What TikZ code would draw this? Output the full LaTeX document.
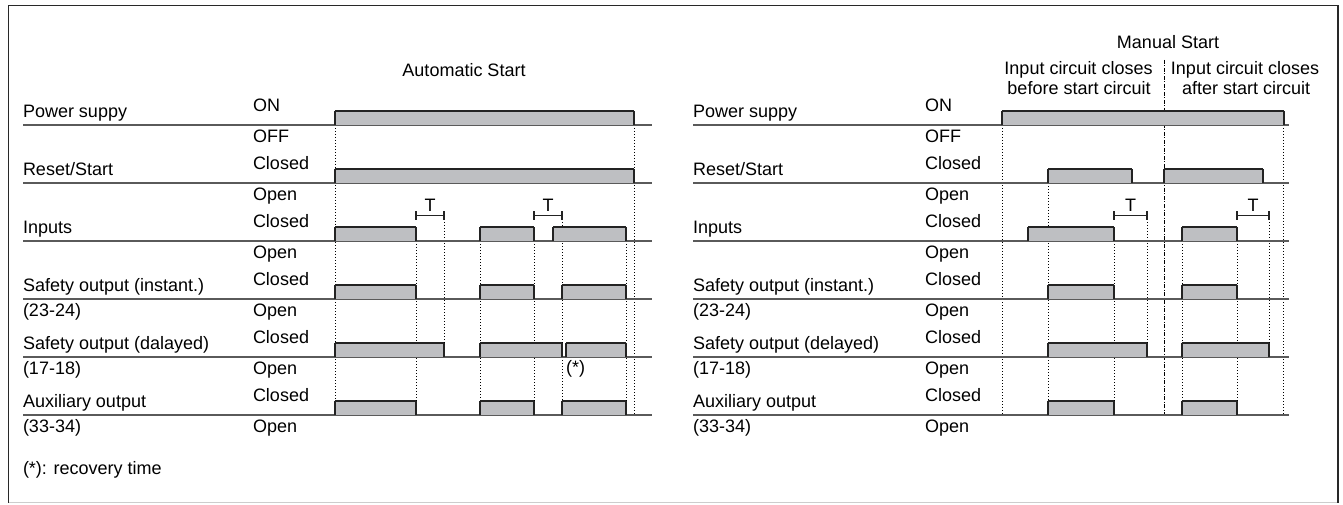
\documentclass[tikz,border=0pt]{standalone}
\usepackage{fontspec}
\setmainfont{Liberation Sans}
\definecolor{barfill}{RGB}{190,191,194}
\definecolor{baseln}{RGB}{90,90,90}
\definecolor{edgeln}{RGB}{35,35,35}
\definecolor{frameln}{RGB}{40,40,40}
\definecolor{framelight}{RGB}{205,205,205}
% one signal pulse: left x, right x, baseline y
\newcommand\sigbar[3]{%
  \fill[barfill] (#1,#3-14) rectangle (#2,#3);
  \draw[bartop] (#1,#3-14) -- (#2,#3-14);
  \draw[baredge] (#1,#3) -- (#1,#3-14) (#2,#3) -- (#2,#3-14);
}
% time span bracket "T": left x, right x
\newcommand\tspan[3]{%
  \draw[bracket] (#1,211.5) -- (#1,220) (#1,215.7) -- (#2,215.7) (#2,211.5) -- (#2,220);
  \node[lbl, anchor=base] (#3) at ({(#1+#2)/2},211.5) {T};
}
\begin{document}
\begin{tikzpicture}[x=1bp,y=-1bp,
  font=\fontsize{18bp}{21bp}\selectfont,
  lbl/.style={anchor=base west, inner sep=0pt, outer sep=0pt},
  hdr/.style={anchor=base, inner sep=0pt, outer sep=0pt},
  rowline/.style={baseln, line width=1.2bp},
  bartop/.style={edgeln, line width=1.2bp},
  baredge/.style={edgeln, line width=2.4bp},
  bracket/.style={edgeln, line width=1.6bp},
  guide/.style={black, line width=1bp, dash pattern=on 1.3bp off 1.7bp},
  divider/.style={black, line width=0.9bp, dash pattern=on 4bp off 1.5bp on 1bp off 1.5bp}]
\useasboundingbox (0,0) rectangle (1343,505);

% frame
\draw[framelight, line width=1.2bp] (8.5,502.5) -- (1337.5,502.5);
\draw[frameln, line width=1.2bp] (8.5,502.5) -- (8.5,5.5) -- (1337.5,5.5);
\draw[frameln, line width=2bp] (1337.5,5.5) -- (1337.5,502.5);

% ---------------- left diagram: automatic start ----------------
\node[hdr] (autohdr) at (464,77) {Automatic Start};

% guide lines
\draw[guide] (335,125) -- (335,415);
\draw[guide] (634,125) -- (634,415);
\draw[guide] (416,241) -- (416,415);
\draw[guide] (444,216) -- (444,343);
\draw[guide] (480,241) -- (480,415);
\draw[guide] (534,241) -- (534,415);
\draw[guide] (562,216) -- (562,415);
\draw[guide] (626,241) -- (626,415);

% row lines
\foreach \yy in {125,183,241,299,357,415}
  \draw[rowline] (23,\yy) -- (652,\yy);

% row names
\node[lbl] (lps)  at (23,117.5) {Power suppy};
\node[lbl] (lrs)  at (23,175.5) {Reset/Start};
\node[lbl] (lin)  at (23,233.5) {Inputs};
\node[lbl] (lsi)  at (23,291.5) {Safety output (instant.)};
\node[lbl] (lsi2) at (23,316.5) {(23-24)};
\node[lbl] (lsd)  at (23,349.5) {Safety output (dalayed)};
\node[lbl] (lsd2) at (23,374.5) {(17-18)};
\node[lbl] (lax)  at (23,407.5) {Auxiliary output};
\node[lbl] (lax2) at (23,432.5) {(33-34)};
\node[lbl] (note) at (23,474.5) {(*): recovery time};

% state names
\node[lbl] (la1)  at (253,111.5) {ON};
\node[lbl] (la2)  at (253,142.5) {OFF};
\node[lbl] (la3)  at (253,169.5) {Closed};
\node[lbl] (la4)  at (253,200.5) {Open};
\node[lbl] (la5)  at (253,227.5) {Closed};
\node[lbl] (la6)  at (253,258.5) {Open};
\node[lbl] (la7)  at (253,285.5) {Closed};
\node[lbl] (la8)  at (253,316.5) {Open};
\node[lbl] (la9)  at (253,343.5) {Closed};
\node[lbl] (la10) at (253,374.5) {Open};
\node[lbl] (la11) at (253,401.5) {Closed};
\node[lbl] (la12) at (253,432.5) {Open};

% pulses
\sigbar{335}{634}{125}
\sigbar{335}{634}{183}
\sigbar{335}{416}{241}
\sigbar{480}{534}{241}
\sigbar{553}{626}{241}
\sigbar{335}{416}{299}
\sigbar{480}{534}{299}
\sigbar{562}{626}{299}
\sigbar{335}{444}{357}
\sigbar{480}{562}{357}
\sigbar{566}{626}{357}
\sigbar{335}{416}{415}
\sigbar{480}{534}{415}
\sigbar{562}{626}{415}
\tspan{416}{444}{ta1}
\tspan{534}{562}{ta2}
\node[lbl] (rec) at (566,373.5) {(*)};

% ---------------- right diagram: manual start ----------------
\node[hdr] (manhdr) at (1168,48.5) {Manual Start};
\node[hdr] (c1a) at (1078.5,74.5) {Input circuit closes};
\node[hdr] (c1b) at (1079,94.5) {before start circuit};
\node[hdr] (c2a) at (1245,74.5) {Input circuit closes};
\node[hdr] (c2b) at (1246,94.5) {after start circuit};

\draw[divider] (1164,60) -- (1164,415);
\draw[guide] (1002,125) -- (1002,415);
\draw[guide] (1283,125) -- (1283,415);
\draw[guide] (1048,183) -- (1048,415);
\draw[guide] (1114,241) -- (1114,415);
\draw[guide] (1147,216) -- (1147,343);
\draw[guide] (1182,241) -- (1182,415);
\draw[guide] (1237,241) -- (1237,415);
\draw[guide] (1269,216) -- (1269,343);

\foreach \yy in {125,183,241,299,357,415}
  \draw[rowline] (693,\yy) -- (1289,\yy);

\node[lbl] (rps)  at (693,117.5) {Power suppy};
\node[lbl] (rrs)  at (693,175.5) {Reset/Start};
\node[lbl] (rin)  at (693,233.5) {Inputs};
\node[lbl] (rsi)  at (693,291.5) {Safety output (instant.)};
\node[lbl] (rsi2) at (693,316.5) {(23-24)};
\node[lbl] (rsd)  at (693,349.5) {Safety output (delayed)};
\node[lbl] (rsd2) at (693,374.5) {(17-18)};
\node[lbl] (rax)  at (693,407.5) {Auxiliary output};
\node[lbl] (rax2) at (693,432.5) {(33-34)};

\node[lbl] (rb1)  at (925,111.5) {ON};
\node[lbl] (rb2)  at (925,142.5) {OFF};
\node[lbl] (rb3)  at (925,169.5) {Closed};
\node[lbl] (rb4)  at (925,200.5) {Open};
\node[lbl] (rb5)  at (925,227.5) {Closed};
\node[lbl] (rb6)  at (925,258.5) {Open};
\node[lbl] (rb7)  at (925,285.5) {Closed};
\node[lbl] (rb8)  at (925,316.5) {Open};
\node[lbl] (rb9)  at (925,343.5) {Closed};
\node[lbl] (rb10) at (925,374.5) {Open};
\node[lbl] (rb11) at (925,401.5) {Closed};
\node[lbl] (rb12) at (925,432.5) {Open};

\sigbar{1002}{1284}{125}
\sigbar{1048}{1132}{183}
\sigbar{1164}{1263}{183}
\sigbar{1028}{1114}{241}
\sigbar{1182}{1237}{241}
\sigbar{1048}{1114}{299}
\sigbar{1182}{1237}{299}
\sigbar{1048}{1147}{357}
\sigbar{1182}{1269}{357}
\sigbar{1048}{1114}{415}
\sigbar{1182}{1237}{415}
\tspan{1114}{1147}{tb1}
\tspan{1237}{1269}{tb2}
\end{tikzpicture}
\end{document}
